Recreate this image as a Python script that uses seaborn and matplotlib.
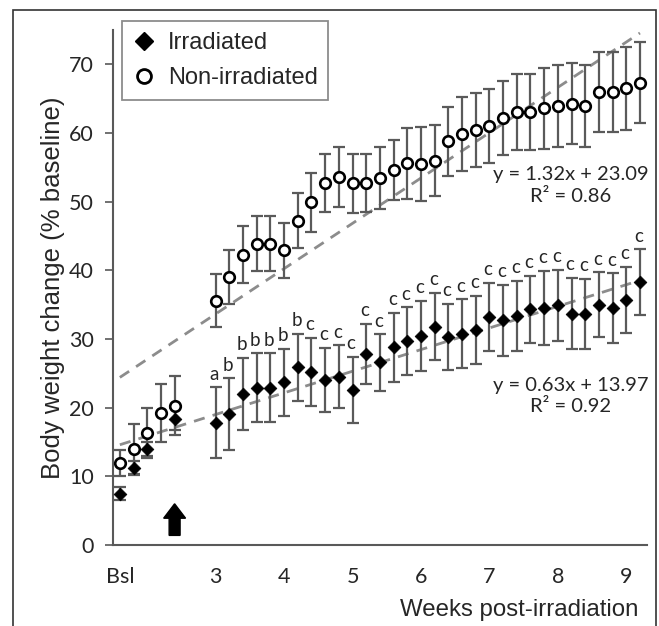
import numpy as np
import pandas as pd
import seaborn as sns
import matplotlib.pyplot as plt
from matplotlib.lines import Line2D
from matplotlib.patches import Rectangle

# x slots: 0-4 baseline days, 5-6 empty (irradiation), 7-38 post-irradiation
nan = np.nan
irr_mean = [7.5, 11.2, 14.0, nan, 18.4, nan, nan,
            17.8, 19.1, 22.0, 22.9, 22.9, 23.7, 25.9, 25.2, 24.0, 24.5, 22.6,
            27.8, 26.6, 28.8, 29.7, 30.5, 31.8, 30.3, 30.8, 31.3, 33.2, 32.7,
            33.4, 34.3, 34.5, 34.9, 33.7, 33.7, 35.0, 34.5, 35.7, 38.3]
irr_err = [0.9, 1.0, 1.0, nan, 1.6, nan, nan,
           5.2, 5.2, 5.3, 5.0, 5.0, 4.9, 4.9, 5.0, 4.7, 4.6, 4.8,
           4.4, 4.1, 5.0, 4.9, 5.1, 4.9, 4.8, 5.0, 5.0, 5.0, 5.2,
           5.1, 4.9, 5.4, 5.2, 5.2, 5.1, 4.7, 5.1, 4.8, 4.8]
non_mean = [12.0, 13.95, 16.3, 19.2, 20.3, nan, nan,
            35.6, 39.0, 42.3, 43.9, 43.9, 42.9, 47.2, 49.9, 52.7, 53.6, 52.7,
            52.7, 53.5, 54.6, 55.6, 55.5, 56.0, 58.8, 59.8, 60.4, 61.0, 62.2,
            63.1, 63.1, 63.6, 63.9, 64.3, 63.9, 66.0, 66.0, 66.5, 67.3]
non_err = [1.9, 3.6, 3.6, 4.2, 4.3, nan, nan,
           3.8, 3.9, 4.2, 4.0, 4.0, 4.0, 4.0, 4.3, 4.2, 4.4, 4.3,
           4.2, 4.5, 4.4, 5.2, 5.4, 5.1, 5.0, 5.4, 5.4, 5.4, 5.4,
           5.5, 5.5, 5.9, 6.0, 5.9, 6.0, 5.8, 5.8, 6.0, 5.9]
letters = [''] * 7 + ['a'] + ['b'] * 6 + ['c'] * 25

tick_pos = [0, 7, 12, 17, 22, 27, 32, 37]
tick_labels = ['Bsl', '3', '4', '5', '6', '7', '8', '9']

# Excel trendlines (x = point number)
fit_irr = (0.63, 13.97)
fit_non = (1.32, 23.09)

df = pd.DataFrame({'slot': np.arange(len(irr_mean)),
                   'irr': irr_mean, 'irr_err': irr_err,
                   'non': non_mean, 'non_err': non_err,
                   'letter': letters})
df['irr_fit'] = fit_irr[0] * (df['slot'] + 1) + fit_irr[1]
df['non_fit'] = fit_non[0] * (df['slot'] + 1) + fit_non[1]

sns.set_style('white')
calib = ['Lato', 'DejaVu Sans']
arial = ['Liberation Sans', 'DejaVu Sans']

fig = plt.figure(figsize=(6.59, 6.26), dpi=100)
ax = fig.add_axes([0.1715, 0.1294, 0.81, 0.8226])

gray_dash = '#8c8c8c'
gray_bar = '#5a5a5a'

# trendlines
sns.lineplot(data=df, x='slot', y='non_fit', ax=ax, color=gray_dash, lw=2,
             zorder=1).lines[-1].set_dashes([4, 3])
sns.lineplot(data=df, x='slot', y='irr_fit', ax=ax, color=gray_dash, lw=2,
             zorder=1).lines[-1].set_dashes([4, 3])

# error bars
ax.errorbar(df['slot'], df['non'], yerr=df['non_err'], fmt='none',
            ecolor=gray_bar, elinewidth=1.6, capsize=4, capthick=1.6, zorder=2)
ax.errorbar(df['slot'], df['irr'], yerr=df['irr_err'], fmt='none',
            ecolor=gray_bar, elinewidth=1.6, capsize=4, capthick=1.6, zorder=2)

# markers
sns.scatterplot(data=df, x='slot', y='irr', ax=ax, marker='D', s=42,
                color='black', edgecolor='black', zorder=3)
sns.scatterplot(data=df, x='slot', y='non', ax=ax, marker='o', s=58,
                facecolor='white', edgecolor='black', linewidth=1.9, zorder=4)

# significance letters
for _, r in df.iterrows():
    if r['letter']:
        ax.text(r['slot'] - 0.1, r['irr'] + r['irr_err'] + 1.1, r['letter'],
                ha='center', va='baseline', fontsize=13.5, family=calib)

# irradiation arrow
ax.arrow(4, 1.4, 0, 2.5, width=0.8, head_width=1.6, head_length=2.1,
         fc='black', ec='black', zorder=5)

ax.text(0.858, 0.698, 'y = 1.32x + 23.09\nR\u00b2 = 0.86', transform=ax.transAxes,
        ha='center', va='center', multialignment='center', fontsize=14.5,
        family=calib, linespacing=1.3)
ax.text(0.858, 0.290, 'y = 0.63x + 13.97\nR\u00b2 = 0.92', transform=ax.transAxes,
        ha='center', va='center', multialignment='center', fontsize=14.5,
        family=calib, linespacing=1.3)

ax.set_xlim(-0.5, 38.5)
ax.set_ylim(0, 75)
ax.set_yticks(range(0, 80, 10))
ax.set_xticks(tick_pos)
ax.set_xticklabels(tick_labels)
for lab in ax.get_xticklabels() + ax.get_yticklabels():
    lab.set_family(calib)
    lab.set_fontsize(15.5)
ax.tick_params(axis='y', direction='out', length=6, width=1.2, color='#595959', pad=8, left=True)
ax.tick_params(axis='x', length=0, pad=16)

for s in ['top', 'right']:
    ax.spines[s].set_visible(False)
for s in ['left', 'bottom']:
    ax.spines[s].set_color('#595959')
    ax.spines[s].set_linewidth(1.5)

ax.set_xlabel('Weeks post-irradiation', fontsize=17.3, family=arial, ha='right')
ax.xaxis.set_label_coords(0.985, -0.105)
ax.set_ylabel('Body weight change (% baseline)', fontsize=18.5, family=arial)
ax.yaxis.set_label_coords(-0.09, 0.5)

handles = [Line2D([], [], marker='D', ls='none', color='black', markersize=9),
           Line2D([], [], marker='o', ls='none', markerfacecolor='white',
                  markeredgecolor='black', markeredgewidth=2, markersize=10)]
leg = fig.legend(handles, ['Irradiated', 'Non-irradiated'], loc='upper left',
                 bbox_to_anchor=(0.185, 0.966), bbox_transform=fig.transFigure,
                 borderaxespad=0, fancybox=False, frameon=True, framealpha=1,
                 edgecolor='#8c8c8c', prop={'family': arial, 'size': 17},
                 handlelength=1.0, handletextpad=0.5, labelspacing=0.55,
                 borderpad=0.45)
leg.get_frame().set_linewidth(1.3)

# outer frame of the figure
fig.patches.append(Rectangle((13 / 659, -0.02), 643 / 659, 1.0 - 10 / 626 + 0.02,
                             transform=fig.transFigure, fill=False,
                             edgecolor='#333333', lw=1.2))

fig.savefig('out.png', dpi=100)
